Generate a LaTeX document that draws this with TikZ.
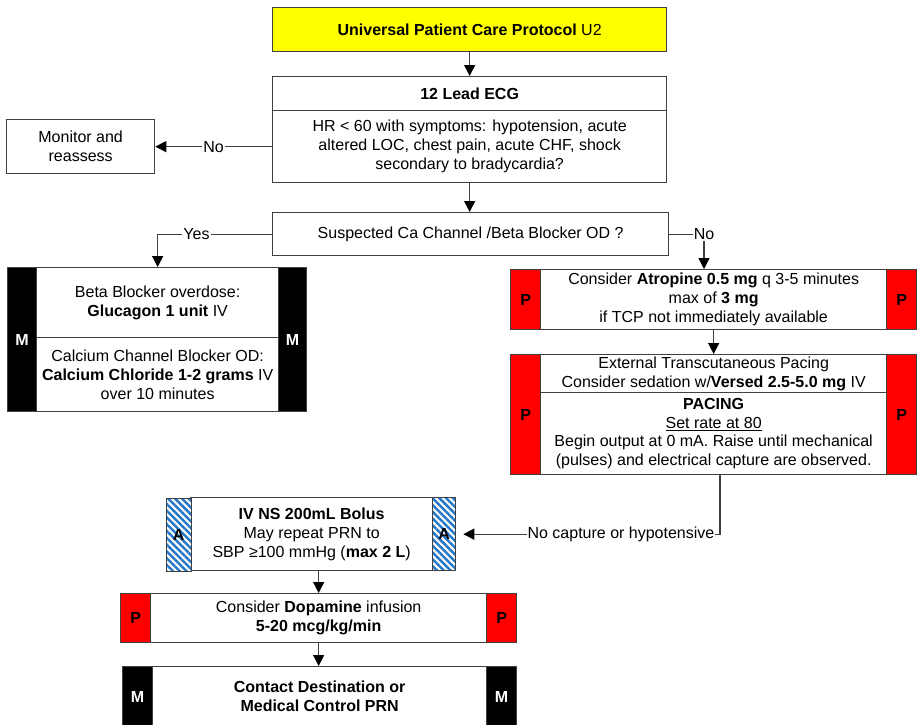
\documentclass[tikz,border=0pt]{standalone}
\usepackage{fontspec}
\setmainfont{Liberation Sans}
\usetikzlibrary{arrows.meta,patterns.meta}
\definecolor{edgec}{RGB}{64,64,64}
\definecolor{bandblue}{RGB}{40,120,200}
\definecolor{ptyellow}{RGB}{255,255,0}
\definecolor{pred}{RGB}{255,0,0}
\newcommand\fs{\fontsize{16}{18.8}\selectfont}

\begin{document}
\begin{tikzpicture}[x=1pt,y=-1pt,
  every node/.style={inner sep=0pt},
  box/.style={draw=edgec, line width=1.3pt, fill=white, anchor=north west, align=center, font=\fs},
  bar/.style={draw=edgec, line width=1.3pt, anchor=north west, font=\fs\bfseries},
  mbar/.style={bar, fill=black, text=white},
  pbar/.style={bar, fill=pred},
  abar/.style={bar, preaction={fill=white}, pattern={Lines[angle=-45,distance=4.8pt,line width=2.5pt]}, pattern color=bandblue},
  arr/.style={draw=edgec, line width=1.3pt, -{Triangle[length=11pt,width=11pt,color=black]}},
  lbl/.style={fill=white, inner sep=1pt, font=\fs},
]
\useasboundingbox (0,0) rectangle (917,724);

% title
\node[box, fill=ptyellow, minimum width=394pt, minimum height=44pt] (title) at (272,7)
  {\textbf{Universal Patient Care Protocol} U2};

% 12 lead ECG
\node[box, minimum width=394pt, minimum height=34pt] (ecgh) at (272,76) {\textbf{12 Lead ECG}};
\node[box, minimum width=394pt, minimum height=72pt] (ecgb) at (272,110)
  {HR < 60 with symptoms: hypotension, acute\\altered LOC, chest pain, acute CHF, shock\\secondary to bradycardia?};

\node[box, minimum width=148pt, minimum height=54pt] (mon) at (6,119) {Monitor and\\reassess};

\node[box, minimum width=396pt, minimum height=43pt] (susp) at (272,212)
  {Suspected Ca Channel /Beta Blocker OD ?};

% overdose treatment
\node[box, minimum width=242pt, minimum height=70pt] (bbt) at (36,267)
  {Beta Blocker overdose:\\\textbf{Glucagon 1 unit} IV};
\node[box, minimum width=242pt, minimum height=74pt] (bbb) at (36,337)
  {Calcium Channel Blocker OD:\\\textbf{Calcium Chloride 1-2 grams} IV\\over 10 minutes};
\node[mbar, minimum width=29pt, minimum height=144pt] (bbl) at (7,267) {M};
\node[mbar, minimum width=28pt, minimum height=144pt] (bbr) at (278,267) {M};

% atropine
\node[box, minimum width=346pt, minimum height=60pt] (atr) at (540,269)
  {Consider \textbf{Atropine 0.5 mg} q 3-5 minutes\\max of \textbf{3 mg}\\if TCP not immediately available};
\node[pbar, minimum width=30pt, minimum height=60pt] (atrl) at (510,269) {P};
\node[pbar, minimum width=30pt, minimum height=60pt] (atrr) at (886,269) {P};

% pacing
\node[box, minimum width=346pt, minimum height=38pt] (pact) at (540,354)
  {External Transcutaneous Pacing\\Consider sedation w/\textbf{Versed 2.5-5.0 mg} IV};
\node[box, minimum width=346pt, minimum height=82pt] (pacb) at (540,392)
  {\textbf{PACING}\\\underline{Set rate at 80}\\Begin output at 0 mA. Raise until mechanical\\(pulses) and electrical capture are observed.};
\node[pbar, minimum width=30pt, minimum height=120pt] (pacl) at (510,354) {P};
\node[pbar, minimum width=30pt, minimum height=120pt] (pacr) at (886,354) {P};

% fluid bolus
\node[box, minimum width=242pt, minimum height=73pt] (ns) at (190,497)
  {\textbf{IV NS 200mL Bolus}\\May repeat PRN to\\SBP ≥100 mmHg (\textbf{max 2 L})};
\node[abar, minimum width=25pt, minimum height=73pt] (nsl) at (165,497) {A};
\node[abar, minimum width=23pt, minimum height=73pt] (nsr) at (432,497) {A};

% dopamine
\node[box, minimum width=336pt, minimum height=49pt] (dop) at (150,593)
  {Consider \textbf{Dopamine} infusion\\\textbf{5-20 mcg/kg/min}};
\node[pbar, minimum width=30pt, minimum height=49pt] (dopl) at (120,593) {P};
\node[pbar, minimum width=30pt, minimum height=49pt] (dopr) at (486,593) {P};

% medical control
\node[box, minimum width=334pt, minimum height=60pt] (fin) at (152,666)
  {\textbf{Contact Destination or}\\\textbf{Medical Control PRN}};
\node[mbar, minimum width=30pt, minimum height=60pt] (finl) at (122,666) {M};
\node[mbar, minimum width=30pt, minimum height=60pt] (finr) at (486,666) {M};

% connectors
\coordinate (noR) at (704,269);
\coordinate (capS) at (720,474);

\draw[arr] (title.south) -- (ecgh.north);
\draw[arr] (ecgb.west) -- node[lbl]{No} (mon.east);
\draw[arr] (ecgb.south) -- (ecgb.south |- susp.north);
\draw[arr] (susp.west) -| node[lbl, pos=0.33]{Yes} (bbt.north);
\draw[arr] (susp.east) -| node[lbl, pos=0.5]{No} (noR);
\draw[arr] (atr.south) -- (pact.north);
\draw[arr, shorten >=7pt] (capS) |- node[lbl, pos=0.5, anchor=east, xshift=-4pt]{No capture or hypotensive} (nsr.east);
\draw[arr] (ns.south -| dop.north) -- (dop.north);
\draw[arr] (dop.south) -- (dop.south |- fin.north);
\end{tikzpicture}
\end{document}
